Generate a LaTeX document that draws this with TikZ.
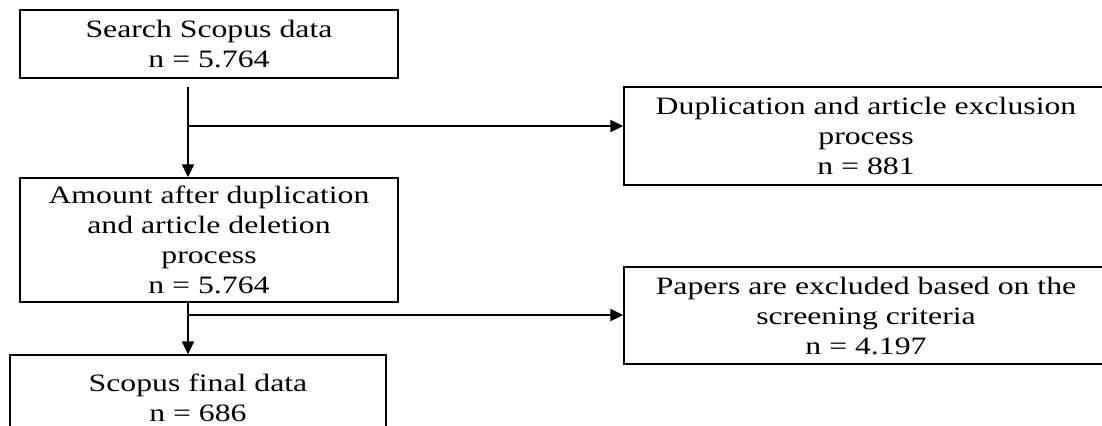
\documentclass[tikz,border=0pt]{standalone}
\usepackage{fontspec}
\setmainfont{Liberation Serif}[FakeStretch=1.27]
\usetikzlibrary{arrows.meta}

\begin{document}
\begin{tikzpicture}[
  x=0.5pt,y=0.5pt,
  box/.style={draw,line width=0.7pt,align=center,inner sep=0pt,
    font=\fontsize{12.5}{15}\selectfont},
  edge/.style={-{Triangle[width=6pt,length=6.5pt]},line width=1pt}
]
  \useasboundingbox (0,0) rectangle (1102,-425);
  \clip (0,0) rectangle (1102,-425);

  \node[box,minimum width=189pt,minimum height=34pt] (search) at (209,-44)
    {Search Scopus data\\n = 5.764};
  \node[box,minimum width=242pt,minimum height=49pt] (dup) at (866,-136)
    {Duplication and article exclusion\\process\\n = 881};
  \node[box,minimum width=189pt,minimum height=62pt] (amount) at (209,-240)
    {Amount after duplication\\and article deletion\\process\\n = 5.764};
  \node[box,minimum width=242pt,minimum height=48.5pt] (screen) at (866,-315.5)
    {Papers are excluded based on the\\screening criteria\\n = 4.197};
  \node[box,minimum width=188pt,minimum height=43pt] (final) at (198,-398)
    {Scopus final data\\n = 686};

  \coordinate (t1) at (188,-87);
  \coordinate (b1) at (188,-126);
  \coordinate (t2) at (amount.south -| t1);
  \coordinate (b2) at (188,-315);

  \draw[edge] (t1) -- (t1 |- amount.north);
  \draw[edge] (b1) -- (b1 -| dup.west);
  \draw[edge] (t2) -- (t2 |- final.north);
  \draw[edge] (b2) -- (b2 -| screen.west);
\end{tikzpicture}
\end{document}
